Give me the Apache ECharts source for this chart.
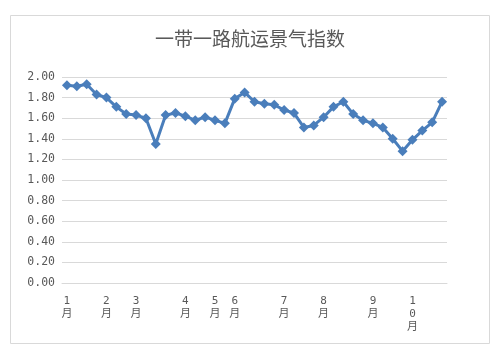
<!DOCTYPE html>
<html lang="zh">
<head>
	<meta charset="UTF-8">
	<title>一带一路航运景气指数</title>
	<style>
		body, div {
			margin: 0;
			padding: 0;
		}
		#main {
			width: 500px;
			height: 355px;
			background: #fff;
		}
	</style>
</head>
<body>
	<div id="main"></div>

	<script src="https://cdn.jsdelivr.net/npm/echarts@6/dist/echarts.min.js"></script>
	<script>
	// 月份标签 (每个点一个类目, 只有月初的点显示)
	var months = ['1月', '', '', '', '2月', '', '', '3月', '', '', '', '', '4月', '', '', '5月', '', '6月', '', '',
		'', '', '7月', '', '', '', '8月', '', '', '', '', '9月', '', '', '', '10月', '', '', ''];

	// 景气指数
	var values = [1.92, 1.91, 1.93, 1.83, 1.80, 1.71, 1.64, 1.63, 1.60, 1.35,
		1.63, 1.65, 1.62, 1.58, 1.61, 1.58, 1.55, 1.79, 1.85, 1.76,
		1.74, 1.73, 1.68, 1.65, 1.51, 1.53, 1.61, 1.71, 1.76, 1.64,
		1.58, 1.55, 1.51, 1.40, 1.28, 1.39, 1.48, 1.56, 1.76];

	var yTicks = { min: 0, max: 2, interval: 0.2 };

	var myEcharts = echarts.init(document.getElementById('main'));

	var options = {
		animation: false,
		title: {
			text: '一带一路航运景气指数',
			left: 'center',
			top: 24,
			textStyle: {
				color: '#595959',
				fontSize: 19,
				fontWeight: 'normal',
				fontFamily: 'Noto Sans CJK SC'
			}
		},
		// 外框
		graphic: [{
			type: 'rect',
			shape: { x: 10.5, y: 15.5, width: 479, height: 328 },
			style: { fill: 'none', stroke: '#d9d9d9', lineWidth: 1 },
			silent: true
		}],
		grid: {
			left: 62,
			right: 53,
			top: 77,
			bottom: 72
		},
		xAxis: {
			type: 'category',
			data: months,
			boundaryGap: true,
			axisLine: { lineStyle: { color: '#d9d9d9' } },
			axisTick: { show: false },
			axisLabel: {
				interval: 0,
				margin: 12,
				color: '#595959',
				fontSize: 11,
				lineHeight: 13,
				fontFamily: 'DejaVu Sans Mono, Noto Sans CJK SC',
				formatter: function (v) {
					return v.split('').join('\n');
				}
			}
		},
		yAxis: {
			type: 'value',
			min: yTicks.min,
			max: yTicks.max,
			interval: yTicks.interval,
			axisLine: { show: false },
			axisTick: { show: false },
			splitLine: { lineStyle: { color: '#d9d9d9' } },
			axisLabel: {
				margin: 7,
				color: '#595959',
				fontSize: 11.5,
				fontFamily: 'DejaVu Sans Mono',
				formatter: function (v) {
					return v.toFixed(2);
				}
			}
		},
		series: [{
			type: 'line',
			data: values,
			symbol: 'diamond',
			symbolSize: 10,
			lineStyle: { color: '#4a7ebb', width: 3 },
			itemStyle: { color: '#4a7ebb' }
		}]
	};

	myEcharts.setOption(options);
	</script>
</body>
</html>
